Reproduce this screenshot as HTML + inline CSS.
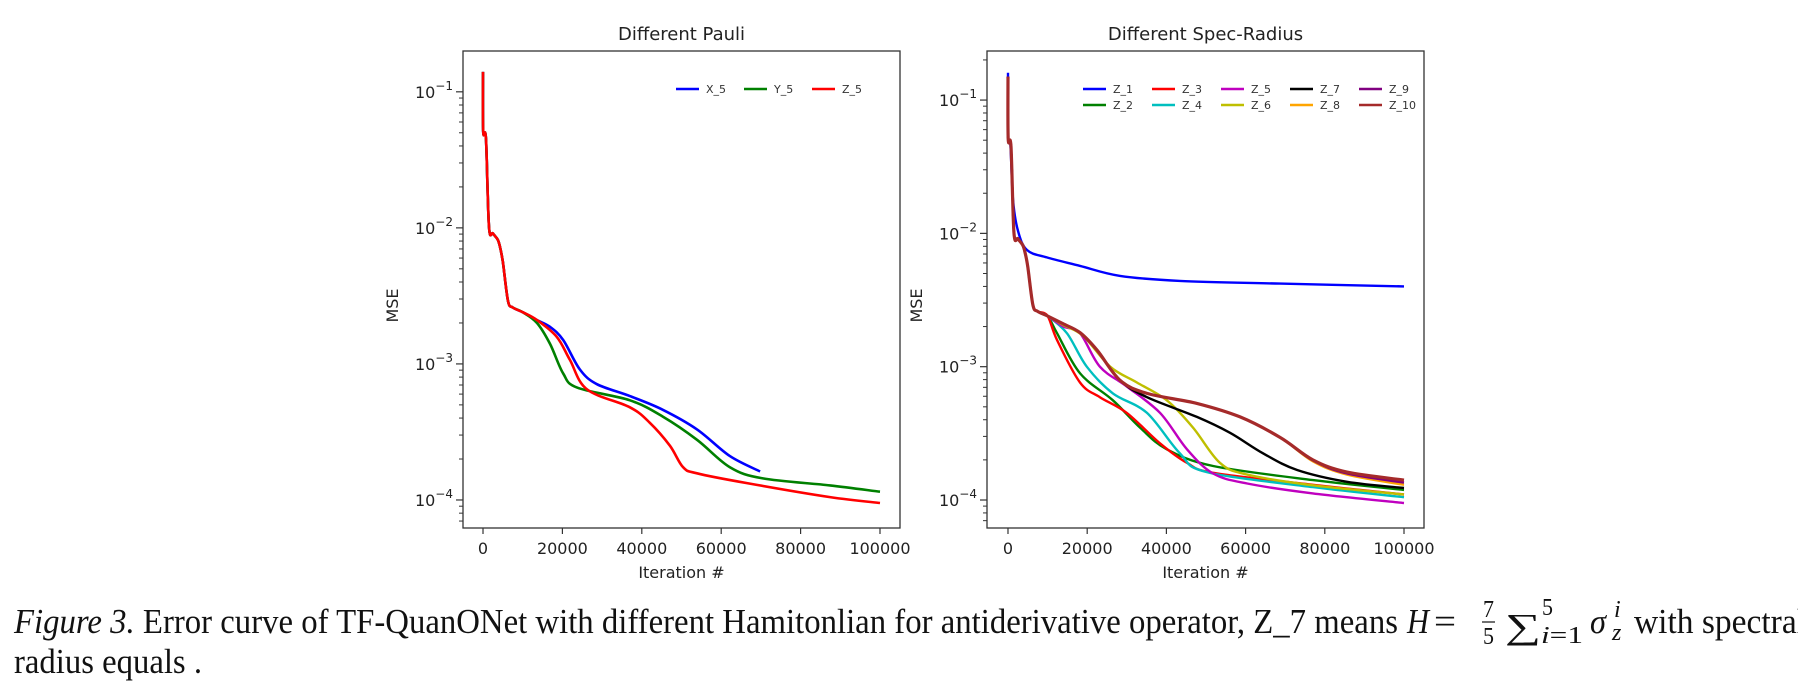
<!DOCTYPE html>
<html><head><meta charset="utf-8"><style>
html,body{margin:0;padding:0;background:#fff;}
svg{display:block;}
.tk{font-family:"DejaVu Sans",sans-serif;font-size:16px;fill:#222;}
.lg{font-family:"DejaVu Sans",sans-serif;font-size:11px;fill:#333;}
.cap{font-family:"Liberation Serif",serif;font-size:35px;fill:#111;}
.sm{font-family:"Liberation Serif",serif;font-size:24px;fill:#111;}
</style></head><body>
<svg id="fig" width="1798" height="694" viewBox="0 0 1798 694" xmlns="http://www.w3.org/2000/svg">
<g id="capg">
<text class="cap" x="14" y="633" textLength="1384" lengthAdjust="spacingAndGlyphs"><tspan font-style="italic">Figure 3.</tspan> Error curve of TF-QuanONet with different Hamitonlian for antiderivative operator, Z_7 means</text>
<text class="cap" x="1407" y="633" font-style="italic" textLength="22" lengthAdjust="spacingAndGlyphs">H</text>
<text class="cap" x="1434" y="633" textLength="22" lengthAdjust="spacingAndGlyphs">=</text>
<text class="sm" x="1483" y="617" textLength="11" lengthAdjust="spacingAndGlyphs">7</text>
<line x1="1482" y1="622" x2="1495" y2="622" stroke="#111" stroke-width="1.2"/>
<text class="sm" x="1483" y="644" textLength="11" lengthAdjust="spacingAndGlyphs">5</text>
<text class="cap" x="1505" y="638" textLength="36" lengthAdjust="spacingAndGlyphs">∑</text>
<text class="sm" x="1542" y="615" textLength="11" lengthAdjust="spacingAndGlyphs">5</text>
<text class="sm" x="1541" y="643" textLength="42" lengthAdjust="spacingAndGlyphs"><tspan font-style="italic">i</tspan>=1</text>
<text class="cap" x="1590" y="633" font-style="italic" textLength="16" lengthAdjust="spacingAndGlyphs">σ</text>
<text class="sm" x="1614" y="617" font-style="italic">i</text>
<text class="sm" x="1612" y="640" font-style="italic">z</text>
<text class="cap" x="1634" y="633" textLength="172" lengthAdjust="spacingAndGlyphs">with spectral</text>
<text class="cap" x="14" y="673" textLength="188" lengthAdjust="spacingAndGlyphs">radius equals .</text>
</g>
</svg>
<script>
// ---- data ----
const prefix = [[0,0.14],[50,0.051],[750,0.045],[1500,0.0102],[2500,0.0091],[3700,0.0082],[4300,0.0072],[5000,0.0056],[6300,0.0029],[7500,0.0026],[10000,0.0024]];
const leftNames = ["X_5","Y_5","Z_5"];
const leftColors = ["#0000ff","#008000","#ff0000"];
const seriesX5 = [[13600,2.1e-3],[16900,1.87e-3],[20200,1.5e-3],[24400,9.1e-4],[28700,7.1e-4],[37000,5.8e-4],[45300,4.6e-4],[53900,3.3e-4],[62200,2.1e-4],[69800,1.62e-4]];
const seriesY5 = [[13600,2.0e-3],[16900,1.4e-3],[20200,8.5e-4],[23700,6.7e-4],[37000,5.4e-4],[45300,4.1e-4],[53900,2.77e-4],[62200,1.74e-4],[70500,1.44e-4],[87400,1.28e-4],[100000,1.15e-4]];
const seriesZ5L = [[13600,2.1e-3],[18600,1.58e-3],[21900,1.07e-3],[26200,6.5e-4],[37000,4.8e-4],[42000,3.7e-4],[47100,2.5e-4],[50400,1.74e-4],[53900,1.57e-4],[66500,1.33e-4],[87400,1.05e-4],[100000,9.5e-5]];

const rightNames = ["Z_1","Z_2","Z_3","Z_4","Z_5","Z_6","Z_7","Z_8","Z_9","Z_10"];
const rightColors = ["#0000ff","#008000","#ff0000","#00bfbf","#bf00bf","#bfbf00","#000000","#ffa500","#800080","#a52a2a"];
const prefixR = [[0,0.15],[50,0.051],[750,0.045],[1500,0.0102],[2500,0.0091],[3700,0.0082],[4300,0.0072],[5000,0.0056],[6300,0.0029],[7500,0.0026],[10000,0.0024]];
const z1 = [[0,0.16],[50,0.052],[600,0.046],[1260,0.018],[2500,0.0105],[4800,7.5e-3],[9800,6.6e-3],[18200,5.7e-3],[28300,4.8e-3],[43400,4.4e-3],[68700,4.2e-3],[100000,4.0e-3]];
const z2 = [[12400,1.78e-3],[18200,8.9e-4],[26500,5.6e-4],[33300,3.5e-4],[40100,2.4e-4],[51800,1.8e-4],[77000,1.41e-4],[100000,1.19e-4]];
const z3 = [[12400,1.58e-3],[18200,7.6e-4],[23200,5.9e-4],[30000,4.5e-4],[38400,2.66e-4],[45200,1.9e-4],[51800,1.6e-4],[77000,1.3e-4],[100000,1.1e-4]];
const z4 = [[14900,1.78e-3],[19900,1.0e-3],[26500,6.3e-4],[35100,4.5e-4],[43400,2.24e-4],[50200,1.62e-4],[77000,1.25e-4],[100000,1.05e-4]];
const z5 = [[14000,2.0e-3],[18200,1.78e-3],[23200,1.0e-3],[30000,7.1e-4],[38400,4.5e-4],[45200,2.4e-4],[51800,1.58e-4],[60400,1.33e-4],[77000,1.12e-4],[100000,9.5e-5]];
const z6 = [[14000,2.05e-3],[19000,1.7e-3],[25800,1.0e-3],[32600,7.6e-4],[40100,5.6e-4],[46700,3.5e-4],[53500,1.9e-4],[60400,1.55e-4],[77000,1.29e-4],[100000,1.1e-4]];
const z7 = [[13900,2.1e-3],[18200,1.8e-3],[22500,1.33e-3],[28300,7.9e-4],[35100,5.9e-4],[47700,4.2e-4],[56000,3.2e-4],[64400,2.24e-4],[73000,1.68e-4],[85600,1.37e-4],[100000,1.23e-4]];
const z8 = [[13900,2.1e-3],[18200,1.8e-3],[22500,1.33e-3],[28300,7.9e-4],[35100,6.3e-4],[47700,5.3e-4],[58600,4.2e-4],[68700,2.95e-4],[77000,1.95e-4],[85600,1.55e-4],[100000,1.3e-4]];
const z9 = [[13900,2.1e-3],[18200,1.8e-3],[22500,1.33e-3],[28300,7.9e-4],[35100,6.3e-4],[47700,5.3e-4],[58600,4.2e-4],[68700,2.95e-4],[77000,1.98e-4],[85600,1.58e-4],[100000,1.35e-4]];
const z10 = [[13900,2.1e-3],[18200,1.8e-3],[22500,1.33e-3],[28300,7.9e-4],[35100,6.3e-4],[47700,5.3e-4],[58600,4.2e-4],[68700,2.95e-4],[77000,2.0e-4],[85600,1.62e-4],[100000,1.41e-4]];
const xTicks = [0,20000,40000,60000,80000,100000];
const yTicks = [-1,-2,-3,-4];

// ---- drawing ----
const NS="http://www.w3.org/2000/svg";
const svg=document.getElementById('fig');
function mk(tag,attrs,parent){const e=document.createElementNS(NS,tag);for(const k in attrs)e.setAttribute(k,attrs[k]);(parent||svg).appendChild(e);return e;}

function makeAxes(cfg){
  const g=mk('g',{});
  
  
  const xs=v=>cfg.L+(v-cfg.xmin)/(cfg.xmax-cfg.xmin)*(cfg.R-cfg.L);
  const ys=v=>cfg.T+(cfg.lmax-Math.log10(v))/(cfg.lmax-cfg.lmin)*(cfg.B-cfg.T);
  const t=mk('text',{x:(cfg.L+cfg.R)/2,y:40,'text-anchor':'middle','font-family':'DejaVu Sans, sans-serif','font-size':'18','fill':'#222'},g);
  t.textContent=cfg.title;
  
  
  for(let d=-5;d<=0;d++){
    for(let m=1;m<10;m++){
      const v=m*Math.pow(10,d);const lv=Math.log10(v);
      if(lv<cfg.lmin||lv>cfg.lmax)continue;
      const y=ys(v);
      mk('line',{x1:cfg.L-(m===1?7:4),x2:cfg.L,y1:y,y2:y,stroke:'#333','stroke-width':m===1?1.2:1},g);
    }
  }
  yTicks.forEach(p=>{
    const y=ys(Math.pow(10,p));
    const lbl=mk('text',{x:cfg.L-10,y:y+6,'text-anchor':'end',class:'tk'},g);
    
    
    const a=document.createElementNS(NS,'tspan');a.textContent='10';lbl.appendChild(a);
    const b=document.createElementNS(NS,'tspan');b.setAttribute('dy','-8');b.setAttribute('font-size','12');b.textContent='−'+(-p);lbl.appendChild(b);
  });
  xTicks.forEach(v=>{
    const x=xs(v);
    mk('line',{x1:x,x2:x,y1:cfg.B,y2:cfg.B+6,stroke:'#333','stroke-width':1.2},g);
    const l=mk('text',{x:x,y:cfg.B+26,'text-anchor':'middle',class:'tk'},g);
    l.textContent=String(v);
    
    
  });
  const xl=mk('text',{x:(cfg.L+cfg.R)/2,y:cfg.B+50,'text-anchor':'middle',class:'tk'},g);
  xl.textContent='Iteration #';
  
  
  const yl=mk('text',{x:0,y:0,'text-anchor':'middle',class:'tk',transform:`translate(${cfg.L-65},${(cfg.T+cfg.B)/2+16}) rotate(-90)`},g);
  yl.textContent='MSE';
  
  
  cfg.series.forEach((s,i)=>{
    const pts=s.data.map(p=>[xs(p[0]),ys(p[1])]);
    let d='M'+pts[0][0].toFixed(1)+','+pts[0][1].toFixed(1);
    for(let k=0;k<pts.length-1;k++){
      const p0=pts[Math.max(k-1,0)],p1=pts[k],p2=pts[k+1],p3=pts[Math.min(k+2,pts.length-1)];
      const c1=[p1[0]+(p2[0]-p0[0])/6,p1[1]+(p2[1]-p0[1])/6];
      const c2=[p2[0]-(p3[0]-p1[0])/6,p2[1]-(p3[1]-p1[1])/6];
      d+=`C${c1[0].toFixed(1)},${c1[1].toFixed(1)} ${c2[0].toFixed(1)},${c2[1].toFixed(1)} ${p2[0].toFixed(1)},${p2[1].toFixed(1)}`;
    }
    const path=mk('path',{d:d,fill:'none',stroke:s.color,'stroke-width':s.w||2.6,'stroke-linejoin':'round'},g);
    
    
  });
  mk('rect',{x:cfg.L,y:cfg.T,width:cfg.R-cfg.L,height:cfg.B-cfg.T,fill:'none',stroke:'#333','stroke-width':1.3},g);
  cfg.series.forEach((s,i)=>{
    const col=Math.floor(i/cfg.rows),row=i%cfg.rows;
    const lx=cfg.legX+col*cfg.legDX,ly=cfg.legY+row*16;
    const lg=mk('g',{},g);
    
    
    mk('line',{x1:lx,x2:lx+23,y1:ly,y2:ly,stroke:s.color,'stroke-width':2.5},lg);
    const tx=mk('text',{x:lx+30,y:ly+4,class:'lg'},lg);
    tx.textContent=s.name;
  });
}

makeAxes({name:'left-chart-different-pauli',title:'Different Pauli',L:463,R:900,T:51,B:528,xmin:-5040,xmax:105040,lmax:-0.70,lmin:-4.206,
  rows:1,legX:676,legDX:68,legY:89,
  series:[{name:leftNames[0],color:leftColors[0],data:prefix.concat(seriesX5)},
          {name:leftNames[1],color:leftColors[1],data:prefix.concat(seriesY5)},
          {name:leftNames[2],color:leftColors[2],data:prefix.concat(seriesZ5L)}]});

const rData=[z1,prefixR.concat(z2),prefixR.concat(z3),prefixR.concat(z4),prefixR.concat(z5),prefixR.concat(z6),prefixR.concat(z7),prefixR.concat(z8),prefixR.concat(z9),prefixR.concat(z10)];
makeAxes({name:'right-chart-different-spec-radius',title:'Different Spec-Radius',L:987,R:1424,T:51,B:528,xmin:-5300,xmax:105050,lmax:-0.632,lmin:-4.21,
  rows:2,legX:1083,legDX:69,legY:89,
  series:rightNames.map((n,i)=>({name:n,color:rightColors[i],data:rData[i],w:i===9?3.2:2.4}))});
</script>
</body></html>
